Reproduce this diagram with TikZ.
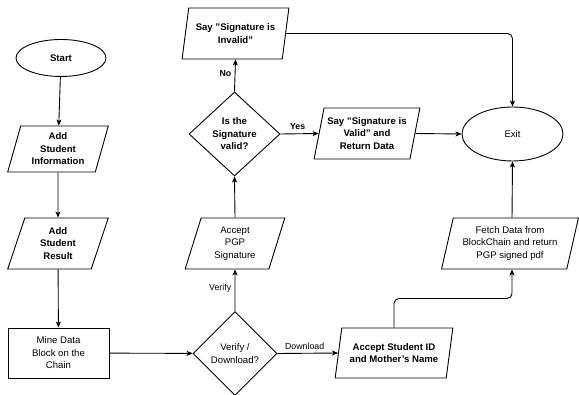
\documentclass[tikz,border=0pt]{standalone}
\usepackage{fontspec}
\setmainfont{Liberation Sans}
\usetikzlibrary{shapes.geometric,arrows.meta,calc}
\begin{document}
\begin{tikzpicture}[x=1pt,y=-1pt,
  every node/.style={font=\fontsize{9.6}{12.5}\selectfont, align=center},
  base/.style={draw, line width=0.9pt, inner sep=0pt},
  para/.style={base, trapezium, trapezium left angle=74, trapezium right angle=106, trapezium stretches=true},
  oval/.style={base, ellipse},
  box/.style={base, rectangle},
  dec/.style={base, diamond},
  conn/.style={line width=0.9pt, -{Stealth[length=6pt,width=5pt,inset=1.5pt]}},
  lbl/.style={font=\fontsize{8.8}{11}\selectfont},
  bf/.style={font=\fontsize{9.6}{12.5}\selectfont\bfseries},
  bl/.style={font=\fontsize{8.8}{11}\selectfont\bfseries}
]
\useasboundingbox (0,0) rectangle (579,395);
\node[oval, bf, minimum width=90pt, minimum height=37pt] (start) at (61,58) {Start};
\node[para, bf, minimum width=101pt, minimum height=46pt] (info) at (58,149) {Add\\Student\\Information};
\node[para, bf, minimum width=101pt, minimum height=51pt] (result) at (58,243.5) {Add\\Student\\Result};
\node[box, minimum width=101pt, minimum height=50pt] (mine) at (58.5,353) {Mine Data\\Block on the\\Chain};
\node[dec, minimum width=84pt, minimum height=84pt] (vd) at (235,353.5) {Verify /\\Download?};
\node[para, minimum width=100pt, minimum height=51pt] (pgp) at (235,243.5) {Accept\\PGP\\Signature};
\node[dec, bf, minimum width=91pt, minimum height=84pt] (valid) at (234.5,134) {Is the\\Signature\\valid?};
\node[para, bf, minimum width=107pt, minimum height=51pt] (inv) at (235.5,33.5) {Say "Signature is\\Invalid"};
\node[para, bf, minimum width=106pt, minimum height=51pt] (val) at (367,133.5) {Say "Signature is\\Valid" and\\Return Data};
\node[oval, minimum width=101pt, minimum height=54pt] (exit) at (512.5,134) {Exit};
\node[para, minimum width=137pt, minimum height=51pt] (fetch) at (510,243.5) {Fetch Data from\\BlockChain and return\\PGP signed pdf};
\node[para, bf, minimum width=118pt, minimum height=50pt] (sid) at (394,353) {Accept Student ID\\and Mother's Name};

\draw[conn] (start) -- (info);
\draw[conn] (info) -- (result);
\draw[conn] (result) -- (mine);
\draw[conn] (mine) -- (vd);
\draw[conn] (vd.north) -- node[lbl, left, pos=0.55] {Verify} (pgp.south);
\draw[conn] (pgp.north) -- (valid.south);
\draw[conn] (valid.north) -- node[bl, left, pos=0.55] {No} (inv.south);
\draw[conn] (valid.east) -- node[bl, above, pos=0.45] {Yes} (val.west);
\draw[conn] (val.east) -- (exit.west);
\draw[conn, rounded corners=5pt] (inv.east) -| (exit.north);
\draw[conn] (vd.east) -- node[lbl, above, pos=0.45] {Download} (sid.west);
\coordinate (mid) at ($(sid.north)!0.5!(fetch.south)$);
\draw[conn, rounded corners=5pt] (sid.north) |- (mid) -| ([xshift=2pt]fetch.south);
\draw[conn] ([xshift=2pt]fetch.north) -- (exit.south);
\end{tikzpicture}
\end{document}
